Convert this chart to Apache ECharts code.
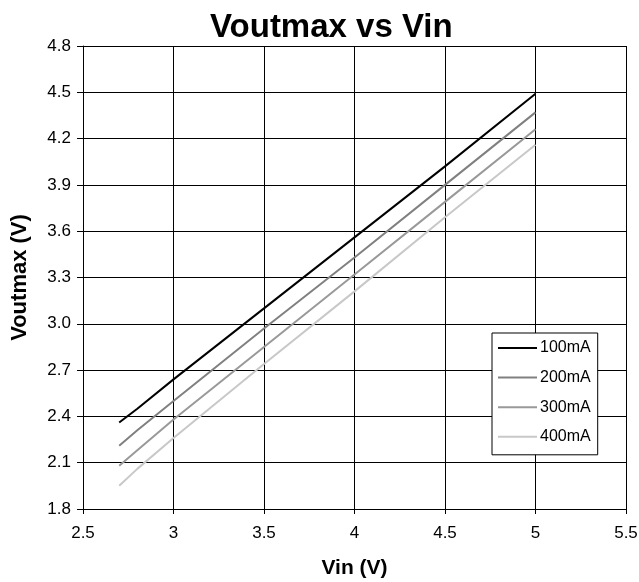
<!DOCTYPE html>
<html>
<head>
<meta charset="utf-8">
<script src="https://cdn.jsdelivr.net/npm/echarts@6/dist/echarts.min.js"></script>
<style>
  html, body { margin: 0; padding: 0; background: #fff; }
  #chart { width: 639px; height: 582px; }
</style>
</head>
<body>
<div id="chart"></div>
<script>
// Vin points
var vin = [2.7, 2.8, 3.0, 3.5, 4.0, 4.5, 5.0];
// Voutmax for each load current
var v100 = [2.36, 2.45, 2.64, 3.10, 3.56, 4.02, 4.49];
var v200 = [2.21, 2.31, 2.50, 2.97, 3.43, 3.90, 4.37];
var v300 = [2.08, 2.18, 2.38, 2.85, 3.32, 3.79, 4.26];
var v400 = [1.95, 2.06, 2.26, 2.74, 3.21, 3.69, 4.16];
var names = ['100mA', '200mA', '300mA', '400mA'];
var colors = ['#000000', '#808080', '#999999', '#c8c8c8'];

function pairs(ys) {
    return vin.map(function (x, i) { return [x, ys[i]]; });
}

var myChart = echarts.init(document.getElementById('chart'));
var allData = [v100, v200, v300, v400];

myChart.setOption({
    animation: false,
    textStyle: { fontFamily: 'Liberation Sans, Arial, sans-serif' },
    title: {
        text: 'Voutmax vs Vin',
        left: 205,
        top: 6,
        textStyle: { fontSize: 33, fontWeight: 'bold', color: '#000' }
    },
    grid: { left: 83, right: 13, top: 46, bottom: 73, outerBoundsMode: 'none', containLabel: false },
    legend: {
        orient: 'vertical',
        left: 492,
        top: 333,
        padding: [7, 7, 10, 6],
        icon: 'rect',
        itemWidth: 39,
        itemHeight: 2,
        itemGap: 13.6,
        backgroundColor: '#fff',
        borderColor: '#000',
        borderWidth: 1,
        borderRadius: 0,
        textStyle: { fontSize: 16, lineHeight: 16, color: '#000', padding: [0, 0, 0, -2] },
        data: names
    },
    xAxis: {
        type: 'value',
        min: 2.5,
        max: 5.5,
        interval: 0.5,
        name: 'Vin (V)',
        nameLocation: 'middle',
        nameGap: 49,
        nameTextStyle: { fontSize: 21, fontWeight: 'bold', color: '#000' },
        axisLine: { show: true, lineStyle: { color: '#000', width: 1 } },
        axisTick: { show: true, inside: false, length: 5, lineStyle: { color: '#000' } },
        axisLabel: { fontSize: 17, color: '#000', margin: 16 },
        splitLine: { show: true, lineStyle: { color: '#000', width: 1 } }
    },
    yAxis: {
        type: 'value',
        min: 1.8,
        max: 4.8,
        interval: 0.3,
        name: 'Voutmax (V)',
        nameLocation: 'middle',
        nameGap: 52,
        nameTextStyle: { fontSize: 22, fontWeight: 'bold', color: '#000' },
        axisLine: { show: true, lineStyle: { color: '#000', width: 1 } },
        axisTick: { show: true, length: 6, lineStyle: { color: '#000' } },
        axisLabel: {
            fontSize: 17, color: '#000', margin: 12,
            formatter: function (v) { return v.toFixed(1); }
        },
        splitLine: { show: true, lineStyle: { color: '#000', width: 1 } }
    },
    series: names.map(function (n, i) {
        return {
            name: n,
            type: 'line',
            symbol: 'none',
            itemStyle: { color: colors[i] },
            lineStyle: { width: 2, color: colors[i] },
            data: pairs(allData[i])
        };
    })
});
</script>
</body>
</html>
